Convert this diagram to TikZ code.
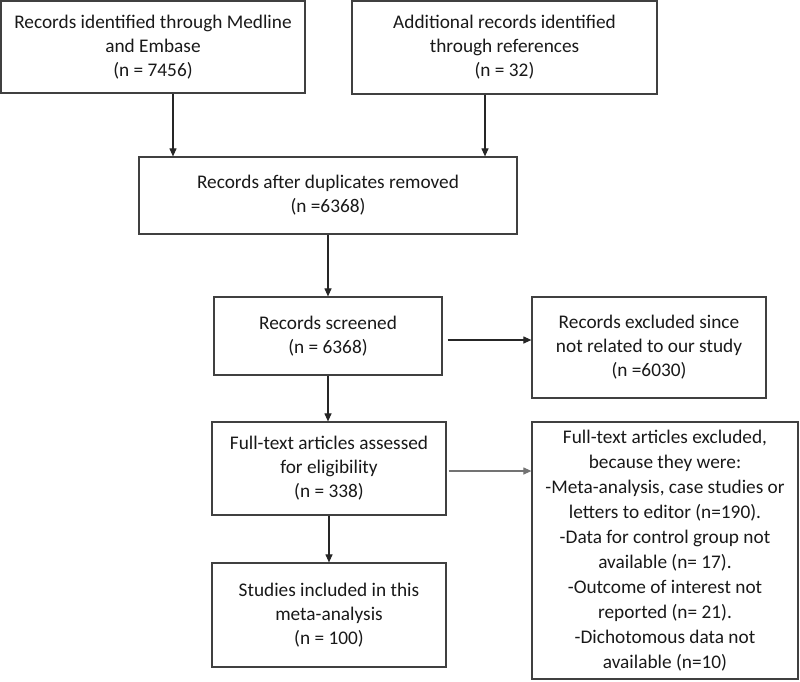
\documentclass[tikz,border=0pt]{standalone}
\usepackage{fontspec}
\setmainfont{Carlito}
\usetikzlibrary{arrows.meta}
\begin{document}
\begin{tikzpicture}[x=1pt,y=-1pt,
  box/.style={draw=black!75,line width=1.2pt,inner sep=0pt,align=center,
    font=\fontsize{19.3}{24}\selectfont,text=black!90,anchor=center},
  arr/.style={draw=black!85,line width=1.1pt,-{Triangle[length=8pt,width=7pt]}},
  garr/.style={arr,draw=black!55}]
\useasboundingbox (0,0) rectangle (800,681);
\node[box,minimum width=304pt,minimum height=92pt] (b1) at (153,47)
  {Records identified through Medline\\and Embase\\(n = 7456)};
\node[box,minimum width=305pt,minimum height=93pt] (b2) at (504.5,47.5)
  {Additional records identified\\through references\\(n = 32)};
\node[box,minimum width=378pt,minimum height=77pt] (b3) at (328,195.5)
  {Records after duplicates removed\\(n =6368)};
\node[box,minimum width=228pt,minimum height=78pt] (b4) at (328,336)
  {Records screened\\(n = 6368)};
\node[box,minimum width=234pt,minimum height=101pt] (b5) at (649,347.5)
  {Records excluded since\\not related to our study\\(n =6030)};
\node[box,minimum width=234pt,minimum height=93pt] (b6) at (329,468.5)
  {Full-text articles assessed\\for eligibility\\(n = 338)};
\node[box,minimum width=266pt,minimum height=257pt,font=\fontsize{19.3}{25}\selectfont] (b7) at (665,550.5)
  {Full-text articles excluded,\\because they were:\\-Meta-analysis, case studies or\\letters to editor (n=190).\\-Data for control group not\\available (n= 17).\\-Outcome of interest not\\reported (n= 21).\\-Dichotomous data not\\available (n=10)};
\node[box,minimum width=234pt,minimum height=104pt] (b8) at (329,615)
  {Studies included in this\\meta-analysis\\(n = 100)};
\draw[arr] ([xshift=20pt]b1.south) -- ([xshift=20pt]b1.south |- b3.north);
\draw[arr] ([xshift=-19.5pt]b2.south) -- ([xshift=-19.5pt]b2.south |- b3.north);
\draw[arr] (b3.south) -- (b4.north);
\draw[arr] ([xshift=5pt,yshift=-4pt]b4.east) -- ([yshift=-4pt]b4.east -| b5.west);
\draw[arr] (b4.south) -- (b4.south |- b6.north);
\draw[garr] ([xshift=2pt,yshift=-2.5pt]b6.east) -- ([yshift=-2.5pt]b6.east -| b7.west);
\draw[arr] (b6.south) -- (b8.north);
\end{tikzpicture}
\end{document}
